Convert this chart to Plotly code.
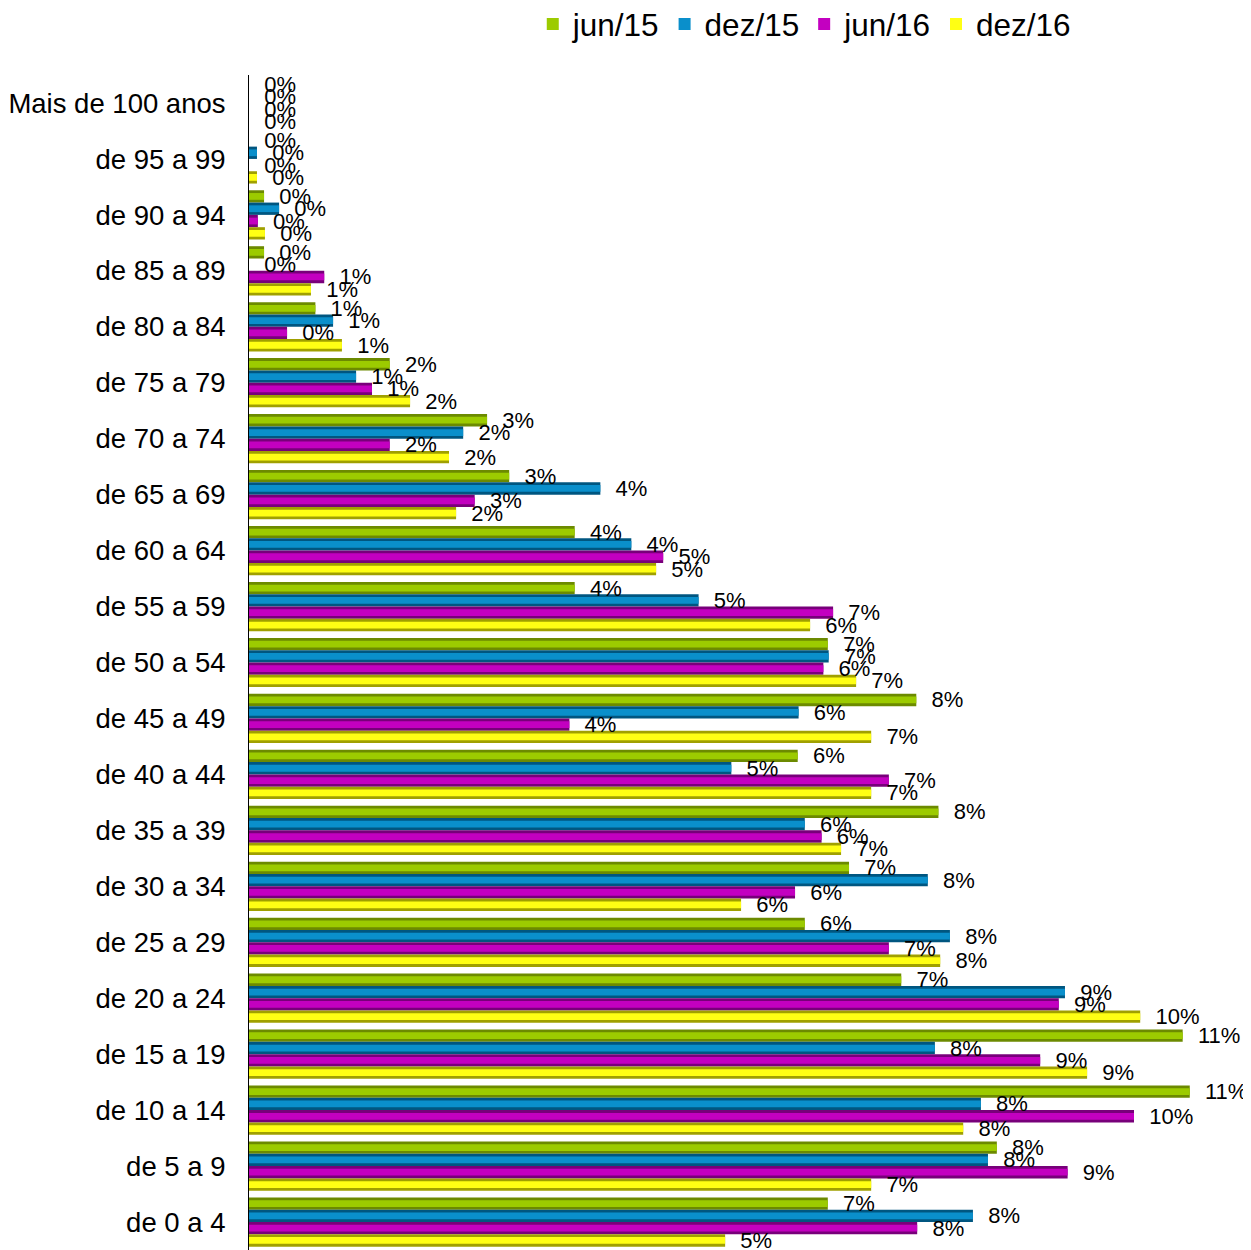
import plotly.graph_objects as go

categories = ["Mais de 100 anos", "de 95 a 99", "de 90 a 94", "de 85 a 89", "de 80 a 84",
              "de 75 a 79", "de 70 a 74", "de 65 a 69", "de 60 a 64", "de 55 a 59",
              "de 50 a 54", "de 45 a 49", "de 40 a 44", "de 35 a 39", "de 30 a 34",
              "de 25 a 29", "de 20 a 24", "de 15 a 19", "de 10 a 14", "de 5 a 9", "de 0 a 4"]

series_names = ["jun/15", "dez/15", "jun/16", "dez/16"]

# values in percent
jun15 = [0.0, 0.0, 0.17, 0.17, 0.75, 1.59, 2.69, 2.94, 3.68, 3.68, 6.54, 7.54, 6.20, 7.79,
         6.78, 6.28, 7.37, 10.55, 10.63, 8.45, 6.54]
dez15 = [0.0, 0.09, 0.34, 0.0, 0.95, 1.21, 2.42, 3.97, 4.32, 5.08, 6.55, 6.21, 5.45, 6.28,
         7.67, 7.92, 9.22, 7.75, 8.27, 8.35, 8.18]
jun16 = [0.0, 0.0, 0.10, 0.85, 0.43, 1.39, 1.59, 2.55, 4.68, 6.60, 6.49, 3.62, 7.23, 6.47,
         6.17, 7.23, 9.15, 8.94, 10.00, 9.25, 7.55]
dez16 = [0.0, 0.09, 0.18, 0.70, 1.05, 1.82, 2.26, 2.34, 4.60, 6.34, 6.86, 7.03, 7.03, 6.69,
         5.56, 7.81, 10.07, 9.47, 8.07, 7.03, 5.38]

series_values = [jun15, dez15, jun16, dez16]

outer_colors = ["#6C8A00", "#005680", "#78007A", "#A0A000"]
inner_colors = ["#9CCB00", "#0A8FCB", "#C300C0", "#FFFF14"]

FONT = "Liberation Sans, Arial, sans-serif"
group_width = 0.88
bar_w = group_width / len(series_names)
inner_frac = 0.55

fig = go.Figure()

# outer (dark edge) bars
for i, (name, vals) in enumerate(zip(series_names, series_values)):
    fig.add_trace(go.Bar(
        y=categories, x=[v / 100 for v in vals], orientation="h",
        width=bar_w, offset=-group_width / 2 + i * bar_w,
        marker=dict(color=outer_colors[i], line=dict(width=0)),
        showlegend=False, hoverinfo="skip", legendgroup=name,
    ))

# inner (bright) bars
for i, (name, vals) in enumerate(zip(series_names, series_values)):
    iw = bar_w * inner_frac
    fig.add_trace(go.Bar(
        y=categories, x=[v / 100 for v in vals], orientation="h", name=name,
        width=iw, offset=-group_width / 2 + i * bar_w + (bar_w - iw) / 2,
        marker=dict(color=inner_colors[i], line=dict(width=0)),
        showlegend=True, legendgroup=name,
    ))

# labels on top
for i, (name, vals) in enumerate(zip(series_names, series_values)):
    fig.add_trace(go.Bar(
        y=categories, x=[v / 100 for v in vals], orientation="h",
        width=bar_w, offset=-group_width / 2 + i * bar_w,
        marker=dict(color="rgba(0,0,0,0)", line=dict(width=0)),
        texttemplate="\u00a0\u00a0%{x:.0%}", textposition="outside",
        constraintext="none", cliponaxis=False,
        textfont=dict(family=FONT, size=22, color="black"),
        showlegend=False, hoverinfo="skip", legendgroup=name,
    ))

W, H = 1243, 1242
fig.update_layout(
    width=W, height=H,
    margin=dict(l=241, r=0, t=67, b=0, autoexpand=False),
    barmode="overlay",
    plot_bgcolor="white", paper_bgcolor="white",
    font=dict(family=FONT, color="black"),
    legend=dict(orientation="h", xref="container", yref="container",
                x=0.6406, y=1 - 16 / H, xanchor="center", yanchor="middle",
                font=dict(family=FONT, size=31.5, color="black"),
                traceorder="normal"),
)
fig.update_xaxes(visible=False, range=[0, (W - 241) / 88.5 / 100], showgrid=False, zeroline=False)
fig.update_yaxes(type="category", autorange="reversed", showline=True, linecolor="black",
                 linewidth=1, ticks="", showgrid=False, zeroline=False,
                 tickfont=dict(family=FONT, size=27.5, color="black"),
                 ticklabelstandoff=17, automargin=False)

fig.write_html("out.html")
